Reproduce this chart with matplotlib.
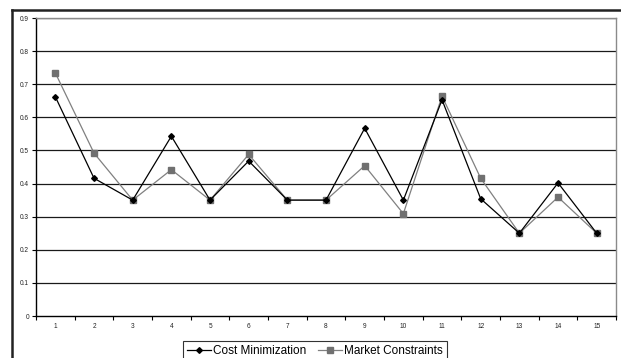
import matplotlib
matplotlib.use("Agg")
import matplotlib.pyplot as plt
from matplotlib.lines import Line2D

plt.rcParams['font.family'] = ['Liberation Sans', 'DejaVu Sans']

categories = list(range(1, 16))
cost_minimization = [0.662, 0.416, 0.35, 0.543, 0.35, 0.468, 0.35, 0.35,
                     0.567, 0.35, 0.653, 0.354, 0.25, 0.402, 0.25]
market_constraints = [0.734, 0.492, 0.35, 0.442, 0.35, 0.488, 0.35, 0.35,
                      0.454, 0.309, 0.664, 0.416, 0.25, 0.359, 0.25]
y_ticks = [0, 0.1, 0.2, 0.3, 0.4, 0.5, 0.6, 0.7, 0.8, 0.9]
y_labels = ['0', '0.1', '0.2', '0.3', '0.4', '0.5', '0.6', '0.7', '0.8', '0.9']

fig = plt.figure(figsize=(6.21, 3.58), dpi=100)
ax = fig.add_axes([0.058, 0.1173, 0.934, 0.8324])

# horizontal gridlines
for v in y_ticks[1:]:
    ax.axhline(v, color='#1a1a1a', lw=0.9, zorder=1)

ax.plot(categories, market_constraints, color='#808080', lw=0.9,
        marker='s', markersize=3.8, markerfacecolor='#707070',
        markeredgecolor='#707070', zorder=3, label='Market Constraints')
ax.plot(categories, cost_minimization, color='black', lw=0.9,
        marker='D', markersize=2.9, markerfacecolor='black',
        markeredgecolor='black', zorder=4, label='Cost Minimization')

ax.set_xlim(0.5, 15.5)
ax.set_ylim(0, 0.9)

# category labels centred, tick marks between categories
ax.set_xticks([c - 0.5 for c in categories] + [15.5])
ax.set_xticklabels([])
ax.set_xticks(categories, minor=True)
ax.set_xticklabels([str(c) for c in categories], minor=True)
ax.tick_params(axis='x', which='major', direction='out', length=3,
               width=0.8, color='black')
ax.tick_params(axis='x', which='minor', length=0, labelsize=4.7,
               labelcolor='#222222', pad=5)

ax.set_yticks(y_ticks)
ax.set_yticklabels(y_labels)
ax.tick_params(axis='y', direction='out', length=3, width=0.8,
               labelsize=4.7, labelcolor='#222222', pad=2)

for side in ('left', 'bottom'):
    ax.spines[side].set_color('black')
    ax.spines[side].set_linewidth(1.0)
for side in ('top', 'right'):
    ax.spines[side].set_color('#8a8a8a')
    ax.spines[side].set_linewidth(1.0)

# outer chart frame
fig.add_artist(Line2D([12 / 621, 1.0], [1 - 10 / 358, 1 - 10 / 358],
                      transform=fig.transFigure, color='#222222', lw=1.8))
fig.add_artist(Line2D([12 / 621, 12 / 621], [0.0, 1 - 10 / 358],
                      transform=fig.transFigure, color='#222222', lw=1.8))

handles = [
    Line2D([], [], color='black', lw=0.9, marker='D', markersize=2.9,
           markerfacecolor='black', markeredgecolor='black'),
    Line2D([], [], color='#808080', lw=0.9, marker='s', markersize=3.8,
           markerfacecolor='#707070', markeredgecolor='#707070'),
]
leg = fig.legend(handles, ['Cost Minimization', 'Market Constraints'],
                 loc='upper center', bbox_to_anchor=(0.507, 0.047),
                 ncol=2, fontsize=8.5, frameon=True, fancybox=False,
                 edgecolor='black', handlelength=2.0, handletextpad=0.2,
                 columnspacing=1.0, borderpad=0.35, borderaxespad=0)
leg.get_frame().set_linewidth(0.8)

fig.savefig('out.png', dpi=100)
